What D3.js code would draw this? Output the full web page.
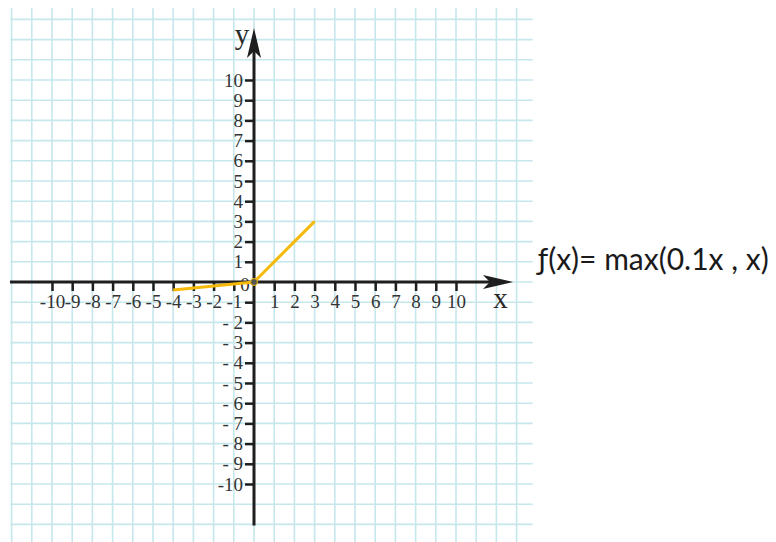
<!DOCTYPE html>
<html>
<head>
<meta charset="utf-8">
<script src="https://cdn.jsdelivr.net/npm/d3@7"></script>
<style>
  body { margin: 0; background: #fff; }
  svg { display: block; }
</style>
</head>
<body>
<div id="graph"></div>
<script>
// values
var xTicks = [-10, -9, -8, -7, -6, -5, -4, -3, -2, -1, 1, 2, 3, 4, 5, 6, 7, 8, 9, 10];
var yTicks = [-10, -9, -8, -7, -6, -5, -4, -3, -2, -1, 1, 2, 3, 4, 5, 6, 7, 8, 9, 10];
var gridX = d3.range(-12, 14);
var gridY = d3.range(-12, 14);
var reluX = [-4, 0, 3];
var reluY = [-0.4, 0, 3];
var formula = "ƒ(x)= max(0.1x , x)";

var w = 776, h = 542;

var x = d3.scaleLinear().domain([-10, 10]).range([52, 456]);
var y = d3.scaleLinear().domain([-10, 10]).range([484, 80]);

var svg = d3.select("#graph").append("svg")
    .attr("width", w)
    .attr("height", h);

// grid paper
var gx0 = x(-12.05), gx1 = x(13.8), gy0 = y(13.55), gy1 = y(-12.9);

svg.selectAll("line.vgrid")
    .data(gridX)
    .enter().append("line")
    .attr("class", "vgrid")
    .attr("x1", function(d) { return x(d); })
    .attr("x2", function(d) { return x(d); })
    .attr("y1", gy0)
    .attr("y2", gy1)
    .style("stroke", "#c6e7ec")
    .style("stroke-width", "1.6px");

svg.selectAll("line.hgrid")
    .data(gridY)
    .enter().append("line")
    .attr("class", "hgrid")
    .attr("x1", gx0)
    .attr("x2", gx1)
    .attr("y1", function(d) { return y(d); })
    .attr("y2", function(d) { return y(d); })
    .style("stroke", "#c6e7ec")
    .style("stroke-width", "1.6px");

// axes with ticks
var xAxis = d3.axisBottom(x)
    .tickValues(xTicks)
    .tickSize(9)
    .tickPadding(4)
    .tickFormat(function(d) { return String(d); });

var yAxis = d3.axisLeft(y)
    .tickValues(yTicks)
    .tickSize(9)
    .tickPadding(2)
    .tickFormat(function(d) {
        if (d == -1) return "";
        if (d < 0 && d > -10) return "- " + (-d);
        return String(d);
    });

var gxa = svg.append("g")
    .attr("transform", "translate(0," + y(0) + ")")
    .call(xAxis);
gxa.select(".domain").remove();

var gya = svg.append("g")
    .attr("transform", "translate(" + x(0) + ",0)")
    .call(yAxis);
gya.select(".domain").remove();

svg.selectAll(".tick line")
    .style("stroke", "#1e1e1e")
    .style("stroke-width", "2.5px");
svg.selectAll(".tick text")
    .style("font-family", "'Liberation Serif', serif")
    .style("font-size", "19px")
    .style("fill", "#333");

// axis lines
svg.append("line")
    .attr("x1", x(-12.08)).attr("x2", x(12.2))
    .attr("y1", y(0)).attr("y2", y(0))
    .style("stroke", "#1e1e1e")
    .style("stroke-width", "3px");

svg.append("line")
    .attr("x1", x(0)).attr("x2", x(0))
    .attr("y1", y(-12.05)).attr("y2", y(12.0))
    .style("stroke", "#1e1e1e")
    .style("stroke-width", "3px");

// arrow heads
var xt = x(12.82), yv = y(0);
svg.append("path")
    .attr("d", "M" + xt + "," + yv + "L" + (xt - 30) + "," + (yv - 7) + "L" + (xt - 23) + "," + yv + "L" + (xt - 30) + "," + (yv + 7) + "Z")
    .style("fill", "#1e1e1e");

var yt = y(12.57), xv = x(0);
svg.append("path")
    .attr("d", "M" + xv + "," + yt + "L" + (xv - 7) + "," + (yt + 30) + "L" + xv + "," + (yt + 23) + "L" + (xv + 7) + "," + (yt + 30) + "Z")
    .style("fill", "#1e1e1e");

// axis names
svg.append("text")
    .attr("x", x(12.2)).attr("y", y(-1.3))
    .attr("text-anchor", "middle")
    .style("font-family", "'Liberation Serif', serif")
    .style("font-size", "29px")
    .style("fill", "#2a2a2a")
    .text("x");

svg.append("text")
    .attr("x", x(-0.6)).attr("y", y(11.8))
    .attr("text-anchor", "middle")
    .style("font-family", "'Liberation Serif', serif")
    .style("font-size", "29px")
    .style("fill", "#2a2a2a")
    .text("y");

// origin label
svg.append("text")
    .attr("x", x(-0.45)).attr("y", y(-0.45))
    .attr("text-anchor", "middle")
    .style("font-family", "'Liberation Serif', serif")
    .style("font-size", "19px")
    .style("fill", "#333")
    .text("0");

// f(x) line
var line = d3.line()
    .x(function(d) { return x(d[0]); })
    .y(function(d) { return y(d[1]); });

svg.append("path")
    .datum(d3.zip(reluX, reluY))
    .attr("d", line)
    .style("fill", "none")
    .style("stroke", "#f5b90a")
    .style("stroke-width", "3px")
    .style("stroke-linejoin", "round");

svg.append("circle")
    .attr("cx", x(0)).attr("cy", y(0))
    .attr("r", 3.5)
    .style("fill", "#555")
    .style("stroke", "#f5b90a")
    .style("stroke-width", "1px");

// formula
svg.append("text")
    .attr("x", 538).attr("y", 270)
    .style("font-family", "Lato, 'Open Sans', sans-serif")
    .style("font-size", "30px")
    .style("fill", "#1a1a1a")
    .text(formula);
</script>
</body>
</html>
